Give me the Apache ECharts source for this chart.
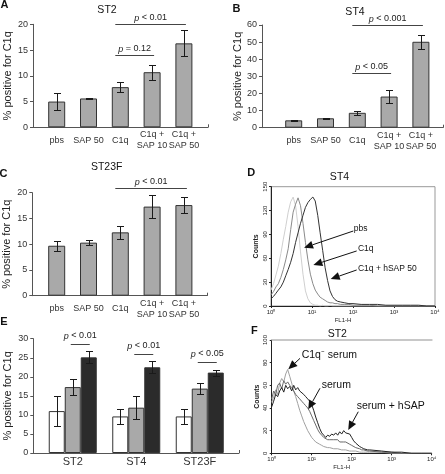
<!DOCTYPE html>
<html><head><meta charset="utf-8">
<script src="https://cdn.jsdelivr.net/npm/echarts@6/dist/echarts.min.js"></script>
<style>html,body{margin:0;padding:0;background:#fff}#c{width:445px;height:474px}</style>
</head><body><div id="c"></div>
<script>
const FONT = '"Liberation Sans", Arial, Helvetica, sans-serif';

// ---------- Panels A-C: categories ----------
const barCats = ['pbs', 'SAP 50', 'C1q', 'C1q +\nSAP 10', 'C1q +\nSAP 50'];

// Panel A (ST2)
const aValues = [5.0, 5.6, 7.8, 10.7, 16.3];
const aErrors = [1.6, 0.1, 1.0, 1.45, 2.5];
const aMax = 20, aInterval = 5;
const aSig = [[2, 4, 20], [2, 3, 14]];
const aSigLabels = ['p < 0.01', 'p = 0.12'];

// Panel B (ST4)
const bValues = [4.3, 5.5, 8.7, 18.2, 50.2];
const bErrors = [0.3, 0.4, 1.0, 3.8, 4.0];
const bMax = 60, bInterval = 10;
const bSig = [[2, 4, 60], [2, 3, 32]];
const bSigLabels = ['p < 0.001', 'p < 0.05'];

// Panel C (ST23F)
const cValues = [9.7, 10.3, 12.3, 17.3, 17.6];
const cErrors = [1.0, 0.5, 1.2, 2.2, 1.5];
const cMax = 20, cInterval = 5;
const cSig = [[2, 4, 21]];
const cSigLabels = ['p < 0.01'];

// Panel E (grouped)
const eCats = ['ST2', 'ST4', 'ST23F'];
const eWhite = [11.0, 9.6, 9.6];
const eWhiteErr = [4.0, 1.9, 1.9];
const eGray = [17.3, 11.9, 16.9];
const eGrayErr = [2.1, 3.0, 1.4];
const eBlack = [25.1, 22.5, 21.1];
const eBlackErr = [1.6, 1.6, 0.8];
const eMax = 30, eInterval = 5;
const eSig = [[0, 0, 28.5], [1, 1, 25.9], [2, 2, 23.8]];
const eSigLabels = ['p < 0.01', 'p < 0.01', 'p < 0.05'];

// ---------- Panel D (ST4 histogram) ----------
const dFl1 = [1, 1.15, 1.32, 1.51, 1.74, 2.0, 2.29, 2.63, 3.02, 3.47, 3.98, 4.57, 5.25, 6.03, 6.92, 7.94, 9.12, 10.5, 12.0, 13.8,
  15.8, 18.2, 20.9, 24.0, 27.5, 31.6, 36.3, 41.7, 50.1, 63.1, 79.4, 100, 158, 251, 398, 631, 1000, 1585, 2512, 3981, 6310, 10000];
const dLight = [20, 28, 39, 50, 66, 84, 100, 118, 131, 137, 126, 100, 68, 40, 19, 9, 4, 2, 1, 1,
  0, 1, 0, 0, 1, 0, 0, 0, 0, 0, 0, 0, 0, 0, 0, 0, 0, 0, 0, 0, 0, 0];
const dMid = [14, 18, 24, 28, 36, 46, 58, 72, 96, 118, 128, 136, 126, 104, 80, 58, 40, 28, 20, 15,
  11, 9, 7, 5, 4, 4, 3, 3, 2, 2, 2, 1, 1, 1, 0, 0, 0, 0, 0, 0, 0, 0];
const dDark = [9, 12, 16, 20, 24, 30, 38, 46, 55, 66, 80, 92, 104, 114, 124, 130, 134, 137, 132, 114,
  92, 70, 48, 32, 19, 12, 8, 6, 5, 4, 3, 3, 2, 2, 2, 1, 1, 1, 1, 1, 0, 0];
const dMaxCount = 150, dInterval = 30;
const dNotes = ['pbs', 'C1q', 'C1q + hSAP 50'];
const dNotePos = [[105, 97.7], [132, 71.7], [132, 47.4]];
const dArrows = [[101.7, 94.3, 6.4, 73.3], [123, 69.2, 10.8, 51.5], [123, 45.3, 28.6, 33.9]];

// ---------- Panel F (ST2 histogram) ----------
const fFl1 = [1, 1.12, 1.26, 1.41, 1.58, 1.78, 2.0, 2.24, 2.51, 2.82, 3.16, 3.55, 3.98, 4.47, 5.01, 5.62, 6.31, 7.08, 7.94, 8.91,
  10, 11.2, 12.6, 14.1, 15.8, 17.8, 20.0, 22.4, 25.1, 28.2, 31.6, 35.5, 39.8, 44.7, 50.1, 56.2, 63.1, 70.8, 79.4, 89.1,
  100, 112, 126, 141, 158, 178, 200, 224, 251, 282, 316, 562, 1000, 1778, 3162, 5623, 10000];
const fHsap = [41, 46, 52, 50, 55, 58, 54, 60, 57, 59, 55, 60, 56, 58, 55, 56, 52, 50, 48, 46,
  43, 38, 32, 27, 22, 18, 16, 14, 16, 15, 17, 16, 18, 16, 19, 17, 20, 18, 19, 17,
  14, 11, 9, 8, 6, 5, 4, 4, 3, 3, 2, 2, 1, 1, 0, 0, 0];
const fSerum = [48, 55, 52, 60, 62, 57, 64, 61, 63, 60, 58, 55, 52, 50, 48, 46, 44, 42, 40, 37,
  33, 29, 25, 21, 18, 16, 14, 13, 12, 12, 11, 12, 11, 12, 10, 11, 10, 10, 9, 8,
  7, 6, 5, 4, 4, 3, 3, 2, 2, 2, 1, 1, 1, 0, 0, 0, 0];
const fDepleted = [45, 50, 56, 52, 62, 66, 63, 70, 74, 68, 62, 55, 50, 44, 38, 33, 28, 24, 20, 17,
  14, 12, 10, 9, 8, 7, 6, 6, 5, 5, 5, 4, 4, 4, 3, 3, 3, 3, 2, 2,
  2, 2, 2, 1, 1, 1, 1, 1, 1, 1, 1, 1, 0, 0, 0, 0, 0];
const fMaxCount = 100, fInterval = 20;
const fNotes = ['C1q\u207B serum', 'serum', 'serum + hSAP'];
const fNotePos = [[5.6, 86.7], [17.8, 60.3], [133, 41.7]];
const fArrows = [[5.1, 83.8, 2.6, 74.1], [16.1, 57.4, 8.2, 38.8], [146, 36.7, 82, 20.6]];

const supDigits = ['\u2070', '\u00B9', '\u00B2', '\u00B3', '\u2074'];

// ---------- helpers ----------
const AX = '#555';
function frameX(g) {
  return {gridIndex: g, type: 'value', min: 0, max: 1, interval: 1,
    axisLine: {show: true, onZero: false, lineStyle: {color: AX}},
    axisTick: {show: true, inside: true, length: 3, lineStyle: {color: AX}},
    axisLabel: {show: false}, splitLine: {show: false}};
}
function frameY(g, max, interval, nameGap) {
  return {gridIndex: g, type: 'value', min: 0, max: max, interval: interval,
    axisLine: {show: true, onZero: false, lineStyle: {color: AX}},
    axisTick: {show: true, length: 3, lineStyle: {color: AX}},
    axisLabel: {fontSize: 9, color: '#333', margin: 5, fontFamily: FONT},
    splitLine: {show: false},
    name: '% positive for C1q', nameLocation: 'middle', nameGap: nameGap,
    nameTextStyle: {fontSize: 11, color: '#222', fontFamily: FONT}};
}
function catX(g, cats, fs, margin) {
  return {gridIndex: g, type: 'category', data: cats,
    axisLine: {show: false}, axisTick: {show: false},
    axisLabel: {interval: 0, fontSize: fs, color: '#333', margin: margin, verticalAlign: 'middle',
      lineHeight: fs + 2, fontFamily: FONT},
    splitLine: {show: false}};
}
function hiddenY(g, max) { return {gridIndex: g, type: 'value', min: 0, max: max, show: false}; }
function histX(g) {
  return {gridIndex: g, type: 'log', logBase: 10, min: 1, max: 10000,
    axisLine: {show: true, onZero: false, lineStyle: {color: '#222'}},
    axisTick: {show: true, length: 2, lineStyle: {color: '#222'}},
    axisLabel: {fontSize: 6, margin: 3, color: '#222', fontFamily: FONT,
      formatter: v => '10' + supDigits[Math.round(Math.log10(v))]},
    splitLine: {show: false},
    name: 'FL1-H', nameLocation: 'middle', nameGap: 11,
    nameTextStyle: {fontSize: 6, color: '#222', fontFamily: FONT, padding: [0, 20, 0, 0]}};
}
function histY(g, max, interval) {
  return {gridIndex: g, type: 'value', min: 0, max: max, interval: interval,
    axisLine: {show: true, onZero: false, lineStyle: {color: '#222'}},
    axisTick: {show: true, length: 2, lineStyle: {color: '#222'}},
    axisLabel: {rotate: 90, fontSize: 6, margin: 3, color: '#222', fontFamily: FONT},
    splitLine: {show: false},
    name: 'Counts', nameLocation: 'middle', nameGap: 11,
    nameTextStyle: {fontSize: 7, fontWeight: 'bold', color: '#222', fontFamily: FONT}};
}

function errorSeries(axis, values, errors, offset, cap) {
  return {type: 'custom', xAxisIndex: axis, yAxisIndex: axis, silent: true, z: 5,
    encode: {x: 0, y: 1},
    data: values.map((v, i) => [i, v, errors[i]]),
    renderItem: function (params, api) {
      const i = api.value(0), v = api.value(1), e = api.value(2);
      const t = api.coord([i, v + e]), b = api.coord([i, v - e]);
      const x = Math.round(t[0] + offset) + 0.5;
      const yt = Math.round(t[1]) + 0.5, yb = Math.round(b[1]) + 0.5;
      const st = {stroke: '#1a1a1a', lineWidth: 1};
      return {type: 'group', children: [
        {type: 'line', shape: {x1: x, y1: yt, x2: x, y2: yb}, style: st},
        {type: 'line', shape: {x1: x - cap, y1: yt, x2: x + cap, y2: yt}, style: st},
        {type: 'line', shape: {x1: x - cap, y1: yb, x2: x + cap, y2: yb}, style: st}
      ]};
    }};
}
function sigSeries(axis, sig, labels, startOff, endOff, gap) {
  return {type: 'custom', xAxisIndex: axis, yAxisIndex: axis, silent: true, z: 6,
    encode: {x: [0, 1], y: 2}, data: sig,
    renderItem: function (params, api) {
      const a = api.coord([api.value(0), api.value(2)]);
      const b = api.coord([api.value(1), api.value(2)]);
      const x1 = a[0] + startOff, x2 = b[0] + endOff, y = Math.round(a[1]) + 0.5;
      const lab = labels[params.dataIndex];
      return {type: 'group', children: [
        {type: 'line', shape: {x1: x1, y1: y, x2: x2, y2: y}, style: {stroke: '#444', lineWidth: 1}},
        {type: 'text', x: (x1 + x2) / 2, y: y - gap, style: {
          text: '{i|p}' + lab.slice(1),
          rich: {i: {fontStyle: 'italic', fontSize: 9, fontFamily: FONT, fill: '#222'}},
          fontSize: 9, fontFamily: FONT, fill: '#222', align: 'center', verticalAlign: 'bottom'}}
      ]};
    }};
}
function barSeries(axis, values, color, width) {
  return {type: 'bar', xAxisIndex: axis, yAxisIndex: axis, data: values, barWidth: width, barGap: '0%',
    silent: true, itemStyle: {color: color, borderColor: '#333', borderWidth: 1}};
}
function histLine(axis, xs, ys, color) {
  return {type: 'line', xAxisIndex: axis, yAxisIndex: axis, showSymbol: false, silent: true,
    data: xs.map((x, i) => [x, ys[i]]), lineStyle: {color: color, width: 1}, z: 3};
}
function arrowSeries(axis, arrows) {
  return {type: 'custom', xAxisIndex: axis, yAxisIndex: axis, silent: true, z: 8,
    encode: {x: [0, 2], y: [1, 3]}, data: arrows,
    renderItem: function (params, api) {
      const t = api.coord([api.value(0), api.value(1)]);
      const h = api.coord([api.value(2), api.value(3)]);
      const dx = h[0] - t[0], dy = h[1] - t[1], len = Math.hypot(dx, dy);
      const ux = dx / len, uy = dy / len, L = 9, W = 4;
      const bx = h[0] - ux * L, by = h[1] - uy * L;
      return {type: 'group', children: [
        {type: 'line', shape: {x1: t[0], y1: t[1], x2: bx, y2: by}, style: {stroke: '#111', lineWidth: 1}},
        {type: 'polygon', shape: {points: [[h[0], h[1]], [bx - uy * W, by + ux * W], [bx + uy * W, by - ux * W]]},
          style: {fill: '#111'}}
      ]};
    }};
}
function noteSeries(axis, pos, texts, size) {
  return {type: 'custom', xAxisIndex: axis, yAxisIndex: axis, silent: true, z: 8,
    encode: {x: 0, y: 1}, data: pos,
    renderItem: function (params, api) {
      const p = api.coord([api.value(0), api.value(1)]);
      return {type: 'text', x: p[0], y: p[1], style: {text: texts[params.dataIndex], fontSize: size,
        fontFamily: FONT, fill: '#111', align: 'left', verticalAlign: 'middle'}};
    }};
}
function label(text, x, y, size, bold) {
  return {type: 'text', x: x, y: y, silent: true, style: {text: text, fontSize: size, fontFamily: FONT,
    fontWeight: bold ? 'bold' : 'normal', fill: '#111', align: 'center', verticalAlign: 'middle'}};
}

const chart = echarts.init(document.getElementById('c'), null, {renderer: 'canvas'});
chart.setOption({
  animation: false,
  backgroundColor: '#fff',
  grid: [
    {left: 33, top: 24.3, width: 175, height: 103},
    {left: 40.8, top: 24.3, width: 159, height: 103},
    {left: 262, top: 25, width: 181, height: 102.7},
    {left: 277.8, top: 25, width: 159, height: 102.7},
    {left: 32.3, top: 192.7, width: 175, height: 103},
    {left: 40.8, top: 192.7, width: 159, height: 103},
    {left: 33.3, top: 338.7, width: 205.7, height: 114.3},
    {left: 41, top: 338.7, width: 190.5, height: 114.3},
    {left: 271, top: 186.7, width: 164, height: 119.3, show: true, borderColor: '#999', borderWidth: 1},
    {left: 271.7, top: 340, width: 160, height: 113.3}
  ],
  xAxis: [
    frameX(0), catX(1, barCats, 9, 13),
    frameX(2), catX(3, barCats, 9, 13),
    frameX(4), catX(5, barCats, 9, 13),
    frameX(6), catX(7, eCats, 11, 9),
    histX(8), histX(9),
    {gridIndex: 9, type: 'value', position: 'top', min: 0, max: 1,
      axisLine: {show: true, onZero: false, lineStyle: {color: '#c8c8c8', width: 2}},
      axisTick: {show: false}, axisLabel: {show: false}, splitLine: {show: false}}
  ],
  yAxis: [
    frameY(0, aMax, aInterval, 20), hiddenY(1, aMax),
    frameY(2, bMax, bInterval, 13), hiddenY(3, bMax),
    frameY(4, cMax, cInterval, 20), hiddenY(5, cMax),
    frameY(6, eMax, eInterval, 20), hiddenY(7, eMax),
    histY(8, dMaxCount, dInterval), histY(9, fMaxCount, fInterval)
  ],
  graphic: [
    label('A', 4.5, 5, 11, true), label('B', 236.5, 9, 11, true), label('C', 3.5, 174, 11, true),
    label('D', 251.3, 173, 11, true), label('E', 3.8, 322, 11, true), label('F', 254.3, 330.5, 11, true),
    label('ST2', 107, 10, 10.5), label('ST4', 355, 11.7, 10.5), label('ST23F', 106.7, 167.3, 10.5),
    label('ST4', 339.5, 177.5, 10.5), label('ST2', 337.3, 333.7, 10.5)
  ],
  series: [
    barSeries(1, aValues, '#a9a9a9', 17), errorSeries(1, aValues, aErrors, 0, 3.5),
    sigSeries(1, aSig, aSigLabels, -5, 2, 2),
    barSeries(3, bValues, '#a9a9a9', 17), errorSeries(3, bValues, bErrors, 0, 3.5),
    sigSeries(3, bSig, bSigLabels, -5, 2, 2),
    barSeries(5, cValues, '#a9a9a9', 17), errorSeries(5, cValues, cErrors, 0, 3.5),
    sigSeries(5, cSig, cSigLabels, -5, 3, 2),
    barSeries(7, eWhite, '#ffffff', 16), barSeries(7, eGray, '#a9a9a9', 16), barSeries(7, eBlack, '#2b2b2b', 16),
    errorSeries(7, eWhite, eWhiteErr, -16, 3.5), errorSeries(7, eGray, eGrayErr, 0, 3.5),
    errorSeries(7, eBlack, eBlackErr, 16, 3.5),
    sigSeries(7, eSig, eSigLabels, -2, 17, 4),
    histLine(8, dFl1, dLight, '#cfcfcf'), histLine(8, dFl1, dMid, '#8a8a8a'), histLine(8, dFl1, dDark, '#333'),
    arrowSeries(8, dArrows), noteSeries(8, dNotePos, dNotes, 8.5),
    histLine(9, fFl1, fDepleted, '#a0a0a0'), histLine(9, fFl1, fSerum, '#686868'), histLine(9, fFl1, fHsap, '#222'),
    arrowSeries(9, fArrows), noteSeries(9, fNotePos, fNotes, 10.5)
  ]
});
</script></body></html>
